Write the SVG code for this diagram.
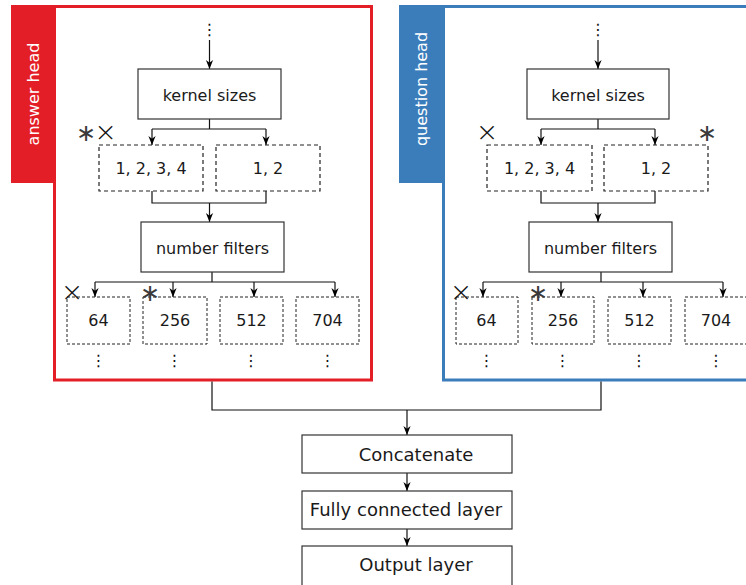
<svg xmlns="http://www.w3.org/2000/svg" width="746" height="585" viewBox="0 0 746 585">
<defs>
<marker id="ah" viewBox="0 0 10 10" refX="10" refY="5" markerWidth="9" markerHeight="9" markerUnits="userSpaceOnUse" orient="auto">
<path d="M0,1 L10,5 L0,9 L3,5 Z" fill="#000"/>
</marker>
<style>
text{font-family:"DejaVu Sans","Verdana",sans-serif;fill:#1a1a1a}
.t16{font-size:16px;text-anchor:middle}
.t18{font-size:18px;text-anchor:middle}
.tab{font-size:16px;fill:#fff;text-anchor:middle}
.box{fill:#fff;stroke:#333;stroke-width:1.2}
.d1{fill:#fff;stroke:#222;stroke-width:1.2;stroke-dasharray:4 3}
.d2{fill:#fff;stroke:#222;stroke-width:1;stroke-dasharray:3 2}
.ln{fill:none;stroke:#111;stroke-width:1.2}
.ar{fill:none;stroke:#111;stroke-width:1.2;marker-end:url(#ah)}
.mk{font-size:27px;text-anchor:middle;fill:#111;font-weight:200}
.st{font-family:"Noto Sans CJK JP","DejaVu Sans",sans-serif;font-size:24px;text-anchor:middle;fill:#3a3a3a}
.dots{font-size:16px;text-anchor:middle;fill:#111}
</style>
</defs>

<g id="answer-head">
<rect x="54.5" y="6.5" width="317" height="373.5" fill="#fff" stroke="#e41e26" stroke-width="3"/>
<rect x="11" y="5" width="44" height="178" fill="#e41e26"/>
<text class="tab" transform="translate(39,94) rotate(-90)">answer head</text>
</g>
<g id="question-head">
<rect x="443.5" y="6.5" width="320" height="373.5" fill="#fff" stroke="#3b7dbb" stroke-width="3"/>
<rect x="399" y="5" width="45" height="178" fill="#3b7dbb"/>
<text class="tab" transform="translate(427,89) rotate(-90)">question head</text>
</g>

<g id="connectors">
<path class="ar" d="M209.5,40 V69"/>
<path class="ln" d="M209.5,119 V129 M152,129 H266"/>
<path class="ar" d="M152,129 V145"/>
<path class="ar" d="M266,129 V145"/>
<path class="ln" d="M152,191 V203 H266 V191"/>
<path class="ar" d="M209.5,203 V222"/>
<path class="ln" d="M212,272 V282 M95,282 H335"/>
<path class="ar" d="M95,282 V297"/>
<path class="ar" d="M173,282 V297"/>
<path class="ar" d="M254,282 V297"/>
<path class="ar" d="M335,282 V297"/>
<path class="ar" d="M598,40 V69"/>
<path class="ln" d="M598,119 V129 M541,129 H655"/>
<path class="ar" d="M541,129 V145"/>
<path class="ar" d="M655,129 V145"/>
<path class="ln" d="M541,191 V203 H655 V191"/>
<path class="ar" d="M598,203 V222"/>
<path class="ln" d="M601,272 V282 M483,282 H723"/>
<path class="ar" d="M483,282 V297"/>
<path class="ar" d="M561,282 V297"/>
<path class="ar" d="M643,282 V297"/>
<path class="ar" d="M723,282 V297"/>
<path class="ln" d="M212,381.5 V410 H601 V381.5"/>
<path class="ar" d="M407,410 V435"/>
<path class="ar" d="M407,473 V491"/>
<path class="ar" d="M407,529 V546"/>
</g>

<g id="a-dots-top"><text class="dots" x="209.5" y="35">⋮</text></g>
<g id="a-kernel"><rect class="box" x="138" y="69" width="143" height="50"/><text class="t16" x="209.5" y="100.5">kernel sizes</text></g>
<g id="a-k1"><rect class="d1" x="99" y="145" width="104" height="46"/><text class="t16" x="151" y="173.5">1, 2, 3, 4</text></g>
<g id="a-k2"><rect class="d1" x="216" y="145" width="104" height="46"/><text class="t16" x="268" y="173.5">1, 2</text></g>
<g id="a-marks1"><text class="st" x="86" y="141">∗</text><text class="mk" x="105.5" y="141">×</text></g>
<g id="a-filters"><rect class="box" x="141" y="222" width="143" height="50"/><text class="t16" x="212.5" y="253.5">number filters</text></g>
<g id="a-f64"><rect class="d2" x="67" y="297" width="63" height="47"/><text class="t16" x="98.5" y="326">64</text><text class="dots" x="98.5" y="366">⋮</text></g>
<g id="a-f256"><rect class="d2" x="143" y="297" width="64" height="47"/><text class="t16" x="175" y="326">256</text><text class="dots" x="174.5" y="366">⋮</text></g>
<g id="a-f512"><rect class="d2" x="220" y="297" width="63" height="47"/><text class="t16" x="251.5" y="326">512</text><text class="dots" x="251" y="366">⋮</text></g>
<g id="a-f704"><rect class="d2" x="296" y="297" width="63" height="47"/><text class="t16" x="327.5" y="326">704</text><text class="dots" x="327.5" y="366">⋮</text></g>
<g id="a-marks2"><text class="mk" x="72" y="301">×</text><text class="st" x="150" y="301">∗</text></g>

<g id="q-dots-top"><text class="dots" x="598" y="35">⋮</text></g>
<g id="q-kernel"><rect class="box" x="527" y="69" width="142" height="50"/><text class="t16" x="598" y="100.5">kernel sizes</text></g>
<g id="q-k1"><rect class="d1" x="487" y="145" width="105" height="46"/><text class="t16" x="539.5" y="173.5">1, 2, 3, 4</text></g>
<g id="q-k2"><rect class="d1" x="604" y="145" width="104" height="46"/><text class="t16" x="656" y="173.5">1, 2</text></g>
<g id="q-marks1"><text class="mk" x="487" y="141">×</text><text class="st" x="707" y="141">∗</text></g>
<g id="q-filters"><rect class="box" x="529" y="222" width="143" height="50"/><text class="t16" x="600.5" y="253.5">number filters</text></g>
<g id="q-f64"><rect class="d2" x="456" y="297" width="62" height="47"/><text class="t16" x="486.5" y="326">64</text><text class="dots" x="486.5" y="366">⋮</text></g>
<g id="q-f256"><rect class="d2" x="532" y="297" width="62" height="47"/><text class="t16" x="563" y="326">256</text><text class="dots" x="562.5" y="366">⋮</text></g>
<g id="q-f512"><rect class="d2" x="608" y="297" width="63" height="47"/><text class="t16" x="639.5" y="326">512</text><text class="dots" x="639" y="366">⋮</text></g>
<g id="q-f704"><rect class="d2" x="685" y="297" width="63" height="47"/><text class="t16" x="716" y="326">704</text><text class="dots" x="716" y="366">⋮</text></g>
<g id="q-marks2"><text class="mk" x="461" y="301">×</text><text class="st" x="538" y="301">∗</text></g>

<g id="concatenate"><rect class="box" x="302" y="435" width="210" height="38"/><text class="t18" x="416" y="461">Concatenate</text></g>
<g id="fully-connected"><rect class="box" x="302" y="491" width="210" height="38"/><text class="t18" x="406" y="516">Fully connected layer</text></g>
<g id="output-layer"><rect class="box" x="302" y="546" width="210" height="40"/><text class="t18" x="416" y="571">Output layer</text></g>
</svg>
